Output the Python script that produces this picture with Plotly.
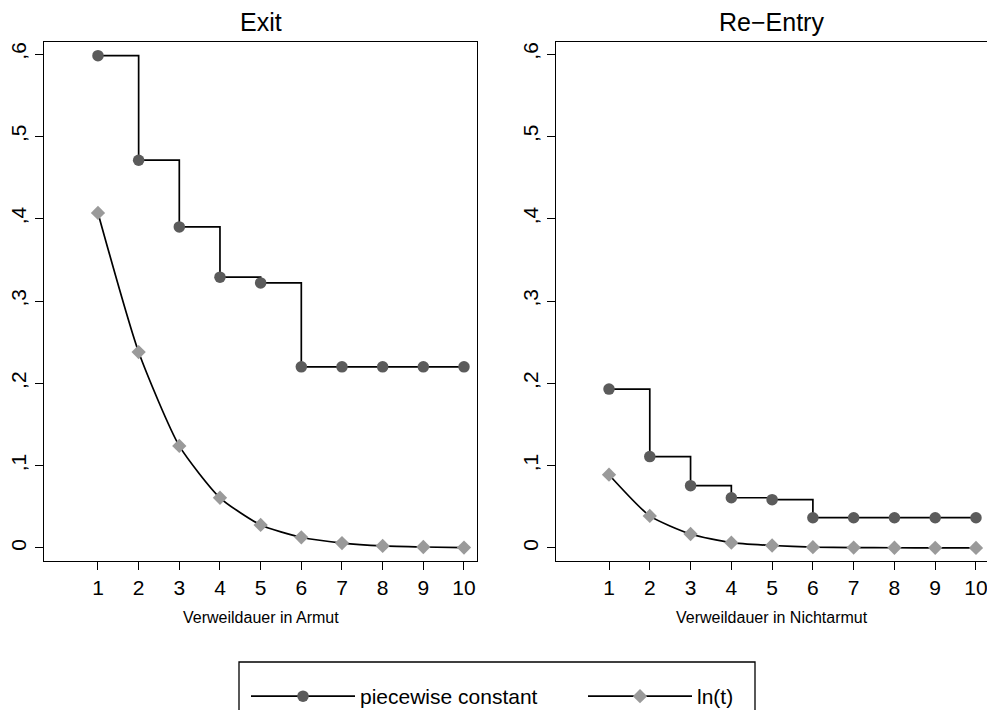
import plotly.graph_objects as go

t = list(range(1, 11))

exit_pc = [0.598, 0.471, 0.390, 0.329, 0.322, 0.220, 0.220, 0.220, 0.220, 0.220]
exit_ln = [0.407, 0.238, 0.124, 0.061, 0.028, 0.013, 0.006, 0.0025, 0.0012, 0.0005]

reentry_pc = [0.193, 0.111, 0.0757, 0.061, 0.0587, 0.0368, 0.0368, 0.0368, 0.0368, 0.0368]
reentry_ln = [0.089, 0.039, 0.017, 0.0065, 0.003, 0.001, 0.0005, 0.0003, 0.0002, 0.0001]

ytick_vals = [0, 0.1, 0.2, 0.3, 0.4, 0.5, 0.6]
ytick_text = ["0", ",1", ",2", ",3", ",4", ",5", ",6"]

panel_titles = ["Exit", "Re\u2212Entry"]
x_titles = ["Verweildauer in Armut", "Verweildauer in Nichtarmut"]
series_names = ["piecewise constant", "ln(t)"]

PC_COLOR = "#5b5b5b"
LN_COLOR = "#9a9a9a"
FONT = "Liberation Sans, Arial, sans-serif"

fig = go.Figure()

for i, (pc, ln) in enumerate([(exit_pc, exit_ln), (reentry_pc, reentry_ln)]):
    xa = "x" if i == 0 else "x2"
    ya = "y" if i == 0 else "y2"
    fig.add_trace(go.Scatter(
        x=t, y=pc, mode="lines+markers", line=dict(color="black", width=1.7, shape="hv"),
        marker=dict(symbol="circle", size=11.5, color=PC_COLOR),
        name=series_names[0], showlegend=(i == 0), legend="legend",
        xaxis=xa, yaxis=ya, cliponaxis=False))
    fig.add_trace(go.Scatter(
        x=t, y=ln, mode="lines+markers", line=dict(color="black", width=1.7, shape="spline", smoothing=0.6),
        marker=dict(symbol="diamond", size=11, color=LN_COLOR),
        name=series_names[1], showlegend=(i == 0), legend="legend2",
        xaxis=xa, yaxis=ya, cliponaxis=False))

W, H = 987, 710
L, R, T, B = 44, 0, 42, 149
pw = W - L - R
ph = H - T - B

def px2x(p):
    return (p - L) / pw

def py2y(p):
    return (H - B - p) / ph

common_x = dict(tickvals=t, ticks="outside", ticklen=8, tickwidth=1.2, tickcolor="black",
                showline=True, linecolor="black", linewidth=1.3, showgrid=False, zeroline=False,
                tickfont=dict(size=21, color="black", family=FONT), automargin=False,
                ticklabeloverflow="allow")
common_y = dict(tickvals=ytick_vals, ticktext=ytick_text, ticks="outside", ticklen=8, tickwidth=1.2,
                tickcolor="black", showline=True, linecolor="black", linewidth=1.3, showgrid=False,
                zeroline=False, tickangle=-90, range=[-0.0158, 0.6146], automargin=False,
                tickfont=dict(size=21, color="black", family=FONT))

leg_common = dict(orientation="h", xanchor="left", yanchor="top", borderwidth=0,
                  bgcolor="rgba(0,0,0,0)", font=dict(size=21, color="black", family=FONT),
                  itemwidth=104, itemclick=False, itemdoubleclick=False)

fig.update_layout(
    width=W, height=H,
    margin=dict(l=L, r=R, t=T, b=B, autoexpand=False),
    paper_bgcolor="white", plot_bgcolor="white",
    font=dict(family=FONT, color="black"),
    xaxis=dict(**common_x, domain=[0, px2x(477)], range=[-0.327, 10.32], mirror=True, anchor="y"),
    yaxis=dict(**common_y, domain=[0, 1], mirror=True, anchor="x"),
    xaxis2=dict(**common_x, domain=[px2x(556), 1], range=[-0.30, 10.27], mirror=True, anchor="y2"),
    yaxis2=dict(**common_y, domain=[0, 1], mirror=False, anchor="x2"),
    showlegend=True,
    legend=dict(**leg_common, x=px2x(246), y=py2y(676)),
    legend2=dict(**leg_common, x=px2x(583), y=py2y(676)),
)

# legend frame (bottom edge runs past the page, as in the reference)
fig.add_shape(type="rect", xref="paper", yref="paper",
              x0=px2x(239), x1=px2x(755), y0=py2y(720), y1=py2y(662),
              line=dict(color="black", width=1.3), fillcolor="rgba(0,0,0,0)", layer="below")

annotations = []
centers = [(44 + 477) / 2, (556 + 987) / 2]
for i in range(2):
    annotations.append(dict(text=panel_titles[i], x=px2x(centers[i]), y=py2y(22), xref="paper", yref="paper",
                            showarrow=False, xanchor="center", yanchor="middle",
                            font=dict(size=25, color="black", family=FONT)))
    annotations.append(dict(text=x_titles[i], x=px2x(centers[i]), y=py2y(618), xref="paper", yref="paper",
                            showarrow=False, xanchor="center", yanchor="middle",
                            font=dict(size=16, color="black", family=FONT)))
fig.update_layout(annotations=annotations)

fig.write_html("out.html")
